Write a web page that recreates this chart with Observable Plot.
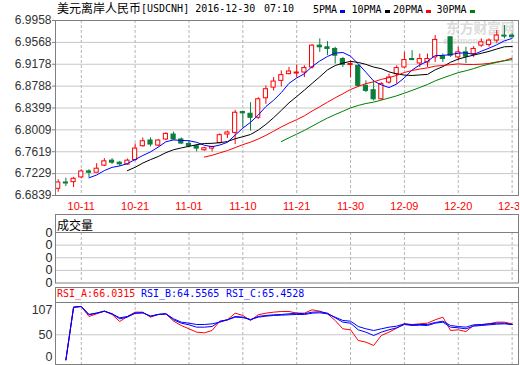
<!DOCTYPE html>
<html><head><meta charset="utf-8">
<script src="https://cdn.jsdelivr.net/npm/d3@7"></script>
<script src="https://cdn.jsdelivr.net/npm/@observablehq/plot@0.6"></script>
<style>
html,body{margin:0;padding:0;background:#fff;}
#root{position:relative;width:520px;height:365px;overflow:hidden;background:#fff;}
.a{position:absolute;white-space:pre;}
.cjk{font-family:"Noto Sans CJK SC",sans-serif;font-size:12px;line-height:12px;}
.mono{font-family:"DejaVu Sans Mono",monospace;font-size:10px;line-height:12px;}
.box{position:absolute;box-sizing:border-box;border:1px solid #808080;}
svg.layer{position:absolute;left:0;top:0;pointer-events:none;}
</style></head>
<body><div id="root"></div>
<script>
// ---- data ----
const xTickIdx = [3, 10, 17, 24, 31, 38, 45, 52, 59];
const xTickLabels = ["10-11", "10-21", "11-01", "11-10", "11-21", "11-30", "12-09", "12-20", "12-30"];
const yTicks = [6.6839, 6.7229, 6.7619, 6.8009, 6.8399, 6.8788, 6.9178, 6.9568, 6.9958];

const open = [6.6958, 6.7071, 6.7077, 6.7161, 6.7268, 6.7245, 6.7371, 6.7460, 6.7424, 6.7389,
  6.7471, 6.7717, 6.7819, 6.7729, 6.7837, 6.7926, 6.7837, 6.7758, 6.7717, 6.7645,
  6.7675, 6.7776, 6.7926, 6.7955, 6.8326, 6.8296, 6.8224, 6.8572, 6.8762, 6.8882,
  6.9002, 6.9013, 6.9031, 6.9121, 6.9510, 6.9480, 6.9451, 6.9271, 6.9164, 6.9151,
  6.8792, 6.8716, 6.8554, 6.8852, 6.9002, 6.9121, 6.9271, 6.9192, 6.9210, 6.9300,
  6.9318, 6.9659, 6.9300, 6.9390, 6.9361, 6.9510, 6.9522, 6.9600, 6.9689, 6.9689];
const high = [6.7120, 6.7148, 6.7161, 6.7299, 6.7299, 6.7406, 6.7496, 6.7496, 6.7448, 6.7489,
  6.7758, 6.7865, 6.7865, 6.7837, 6.7955, 6.7968, 6.7865, 6.7806, 6.7747, 6.7699,
  6.7717, 6.7937, 6.7986, 6.8357, 6.8336, 6.8493, 6.8583, 6.8792, 6.8941, 6.9061,
  6.9121, 6.9164, 6.9151, 6.9528, 6.9630, 6.9582, 6.9480, 6.9300, 6.9241, 6.9151,
  6.8882, 6.8882, 6.8852, 6.9002, 6.9151, 6.9390, 6.9420, 6.9361, 6.9361, 6.9689,
  6.9361, 6.9659, 6.9480, 6.9480, 6.9492, 6.9630, 6.9630, 6.9779, 6.9869, 6.9720];
const low = [6.6897, 6.6999, 6.6981, 6.7137, 6.7161, 6.7240, 6.7353, 6.7389, 6.7358, 6.7376,
  6.7448, 6.7699, 6.7704, 6.7704, 6.7819, 6.7819, 6.7747, 6.7699, 6.7615, 6.7627,
  6.7615, 6.7758, 6.7855, 6.7747, 6.8045, 6.7986, 6.8195, 6.8464, 6.8703, 6.8774,
  6.8990, 6.8941, 6.8941, 6.9092, 6.9390, 6.9331, 6.9182, 6.9121, 6.8941, 6.8762,
  6.8673, 6.8524, 6.8536, 6.8823, 6.8823, 6.9092, 6.9241, 6.9121, 6.9121, 6.9210,
  6.9210, 6.9300, 6.9241, 6.9192, 6.9300, 6.9480, 6.9480, 6.9551, 6.9630, 6.9648];
const close = [6.7071, 6.7053, 6.7137, 6.7268, 6.7245, 6.7317, 6.7448, 6.7424, 6.7394, 6.7460,
  6.7675, 6.7806, 6.7747, 6.7819, 6.7937, 6.7837, 6.7765, 6.7717, 6.7675, 6.7681,
  6.7704, 6.7914, 6.7962, 6.8314, 6.8303, 6.8224, 6.8554, 6.8733, 6.8870, 6.8984,
  6.9049, 6.9031, 6.9110, 6.9510, 6.9480, 6.9451, 6.9331, 6.9169, 6.9182, 6.8792,
  6.8703, 6.8554, 6.8823, 6.8941, 6.9110, 6.9253, 6.9253, 6.9271, 6.9271, 6.9612,
  6.9271, 6.9331, 6.9390, 6.9313, 6.9451, 6.9569, 6.9600, 6.9689, 6.9671, 6.9659];

const maPeriods = [5, 10, 20, 30];
const maNames = ["5PMA", "10PMA", "20PMA", "30PMA"];
const maColors = ["#0000ff", "#000000", "#ff0000", "#008000"];

const volTicks = [0, 1, 2, 3, 4];
const volTickLabels = ["0", "0", "0", "0", "0"];

const rsiA = [null, -7.7, 113.5, 115.1, 92.1, 98.2, 104.3, 96.7, 80.6, 92.1,
  102.0, 102.0, 90.5, 96.7, 98.2, 81.3, 71.3, 63.7, 56.0, 54.5,
  59.8, 81.3, 84.4, 99.7, 94.4, 82.9, 95.9, 99.7, 102.0, 103.6,
  103.6, 99.7, 99.7, 107.4, 104.3, 98.2, 82.9, 63.7, 61.4, 36.8,
  33.0, 25.3, 48.3, 56.0, 65.2, 75.2, 73.6, 75.2, 76.7, 84.4,
  90.5, 59.8, 61.4, 57.5, 71.3, 72.9, 75.2, 79.0, 79.0, 75.2];
const rsiB = [null, -7.7, 113.5, 115.1, 96.0, 99.7, 104.3, 98.2, 86.7, 90.5,
  99.7, 100.5, 92.8, 96.7, 98.2, 84.4, 76.7, 72.9, 67.5, 67.5,
  69.0, 80.6, 84.4, 92.1, 90.5, 84.4, 92.1, 94.4, 95.9, 96.7,
  98.2, 99.7, 98.2, 102.0, 102.8, 99.7, 89.0, 79.0, 76.7, 61.4,
  56.0, 48.3, 56.0, 61.4, 66.0, 73.6, 71.3, 72.1, 71.3, 76.7,
  79.0, 67.5, 66.0, 63.7, 69.8, 71.3, 72.9, 74.4, 75.2, 73.6];
const rsiC = [null, -7.7, 113.5, 115.1, 97.0, 100.0, 104.3, 98.2, 89.0, 92.1,
  99.7, 100.5, 92.8, 96.7, 98.2, 86.7, 79.0, 76.7, 73.6, 73.6,
  75.2, 79.0, 84.4, 90.5, 89.8, 85.2, 90.5, 92.8, 94.4, 95.1,
  95.9, 96.7, 96.7, 99.7, 100.5, 98.2, 90.5, 82.9, 81.3, 69.0,
  63.7, 59.8, 63.7, 67.5, 69.8, 75.2, 72.9, 73.6, 73.6, 78.2,
  81.3, 71.3, 69.0, 67.5, 72.9, 73.6, 75.2, 76.7, 76.7, 73.6];
const rsiTicks = [0, 50, 107];
const rsiNames = ["RSI_A:66.0315", "RSI_B:64.5565", "RSI_C:65.4528"];
const rsiColors = ["#ff0000", "#0000ff", "#0000ff"];

// ---- build ----
const RED = "#ff0000", GREEN = "#0a7d3a";
const rows = close.map((c, i) => ({i, o: open[i], h: high[i], l: low[i], c, up: c >= open[i]}));
const rsiRows = rsiA.map((a, i) => ({i, a, b: rsiB[i], c: rsiC[i]})).filter(d => d.a != null);

const root = document.getElementById("root");
function add(html) { root.insertAdjacentHTML("beforeend", html); }

// watermark (behind)
add(`<div class="a" style="left:446px;top:20px;font-family:'Noto Sans CJK SC';font-weight:bold;font-size:14px;line-height:15px;color:#dcdcdc;letter-spacing:-0.3px">东方财富网</div>`);
add(`<div class="a" style="left:443px;top:37px;font-family:'Liberation Sans';font-weight:bold;font-size:8.5px;line-height:9px;color:#dedede">eastmoney.com</div>`);

// title + legend
add(`<div class="a cjk" style="left:57px;top:2px;color:#000">美元离岸人民币</div>`);
add(`<div class="a mono" style="left:141px;top:3px;color:#000">[USDCNH] 2016-12-30</div>`);
add(`<div class="a mono" style="left:264px;top:3px;color:#000">07:10</div>`);
const legX = [313, 351.5, 393, 436.5];
maNames.forEach((n, k) => {
  add(`<div class="a mono" style="left:${legX[k]}px;top:4px;color:#000">${n}</div>`);
  add(`<div class="a" style="left:${legX[k] + n.length * 6.02 + 3}px;top:10px;width:5px;height:3px;background:${maColors[k]}"></div>`);
});

const xScale = {type: "linear", domain: [-0.35, 59.83], axis: null, label: null};
const baseStyle = {background: "transparent", fontFamily: "'Liberation Sans', Arial, sans-serif", fontSize: "12px", overflow: "hidden"};
const xFmt = d => xTickLabels[xTickIdx.indexOf(d)];

function place(svg) {
  svg.classList.add("layer");
  svg.querySelectorAll("text").forEach(t => { if (t.textContent.includes("\u26a0")) t.remove(); });
  root.appendChild(svg);
}

// main candle panel
place(Plot.plot({
  width: 519, height: 365, marginLeft: 55, marginRight: 1, marginTop: 20, marginBottom: 170,
  x: xScale,
  y: {type: "linear", domain: [yTicks[0], yTicks[yTicks.length - 1]], axis: null, label: null},
  style: baseStyle,
  marks: [
    Plot.gridY(yTicks, {stroke: "#c8c8c8", strokeOpacity: 1}),
    Plot.gridX(xTickIdx, {stroke: "#b4b4b4", strokeOpacity: 1, strokeDasharray: "3,2"}),
    Plot.ruleX(rows, {x: "i", y1: "l", y2: "h", stroke: d => d.up ? RED : GREEN}),
    Plot.rect(rows, {x1: d => d.i - 0.27, x2: d => d.i + 0.27, y1: "o", y2: "c",
      fill: d => d.up ? "#ffffff" : GREEN, stroke: d => d.up ? RED : GREEN, strokeWidth: 1}),
    ...maPeriods.map((k, j) => Plot.lineY(rows, Plot.windowY({k, anchor: "end", reduce: "mean", strict: true},
      {x: "i", y: "c", stroke: maColors[j], strokeWidth: 1}))),
    Plot.frame({stroke: "#808080"}),
    Plot.axisY(yTicks, {label: null, tickSize: 3, tickPadding: 1, tickFormat: d => d.toFixed(4), stroke: "#808080", fill: "#333", fontSize: 12}),
    Plot.axisX(xTickIdx, {label: null, tickSize: 0, tickPadding: 7, tickFormat: xFmt, fill: RED, fontSize: 11})
  ]
}));

// volume panel
add(`<div class="box" style="left:55px;top:214px;width:464px;height:19px"></div>`);
add(`<div class="a cjk" style="left:57px;top:218.5px;color:#000">成交量</div>`);
place(Plot.plot({
  width: 519, height: 365, marginLeft: 55, marginRight: 1, marginTop: 232, marginBottom: 82.5,
  x: xScale,
  y: {type: "linear", domain: [0, 4], axis: null, label: null},
  style: baseStyle,
  marks: [
    Plot.gridY(volTicks.slice(1, -1), {stroke: "#c8c8c8", strokeOpacity: 1}),
    Plot.gridX(xTickIdx, {stroke: "#b4b4b4", strokeOpacity: 1, strokeDasharray: "3,2"}),
    Plot.frame({stroke: "#808080"}),
    Plot.axisY(volTicks, {label: null, tickSize: 0, tickPadding: 3, tickFormat: d => volTickLabels[volTicks.indexOf(d)], fill: "#222", fontSize: 12.5})
  ]
}));

// RSI panel
add(`<div class="box" style="left:55px;top:287px;width:464px;height:16px"></div>`);
const rsiX = [57, 141, 226];
rsiNames.forEach((n, k) => add(`<div class="a mono" style="left:${rsiX[k]}px;top:288px;color:${rsiColors[k]}">${n}</div>`));
place(Plot.plot({
  width: 519, height: 365, marginLeft: 55, marginRight: 1, marginTop: 302, marginBottom: 1,
  x: xScale,
  y: {type: "linear", domain: [-18.4, 124.25], axis: null, label: null},
  style: baseStyle,
  marks: [
    Plot.gridY([50], {stroke: "#c8c8c8", strokeOpacity: 1}),
    Plot.gridX(xTickIdx, {stroke: "#b4b4b4", strokeOpacity: 1, strokeDasharray: "3,2"}),
    Plot.lineY(rsiRows, {x: "i", y: "a", stroke: rsiColors[0], strokeWidth: 1}),
    Plot.lineY(rsiRows, {x: "i", y: "b", stroke: rsiColors[1], strokeWidth: 1}),
    Plot.lineY(rsiRows, {x: "i", y: "c", stroke: rsiColors[2], strokeWidth: 1}),
    Plot.frame({stroke: "#808080"}),
    Plot.axisY(rsiTicks, {label: null, tickSize: 0, tickPadding: 3, tickFormat: d => String(d), fill: "#333", fontSize: 12.5})
  ]
}));
</script>
</body></html>
